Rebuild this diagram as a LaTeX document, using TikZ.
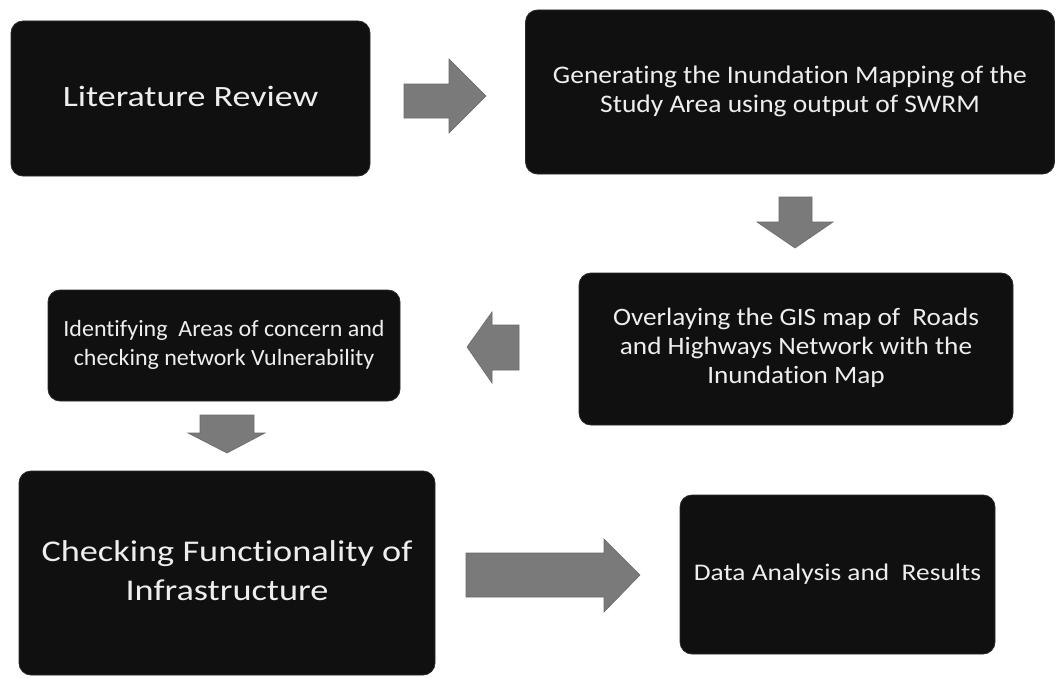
\documentclass[tikz,border=0pt]{standalone}
\usepackage{fontspec}
\usepackage{graphicx}
\setmainfont{Carlito}[Ligatures={NoCommon}]
\definecolor{boxfill}{HTML}{101010}
\definecolor{boxline}{HTML}{2A2A2A}
\definecolor{arrowgray}{HTML}{7A7A7A}
\definecolor{arrowline}{HTML}{6A6A6A}
\definecolor{txt}{HTML}{EEEEEE}
\newcommand{\boxtext}[4]{\scalebox{1}[#1]{\fontsize{#2}{#3}\selectfont\begin{tabular}{@{}c@{}}#4\end{tabular}}}
\tikzset{
  stepbox/.style={draw=boxline, fill=boxfill, rounded corners=12pt, line width=0.8pt,
                  text=txt, inner sep=0pt, anchor=center},
  blockarrow/.style={fill=arrowgray, draw=arrowline, line width=0.6pt, line join=miter}
}
\begin{document}
\begin{tikzpicture}[x=1pt, y=-1pt]
\useasboundingbox (0,0) rectangle (1056,677);
\fill[white] (0,0) rectangle (1056,677);

% boxes
\node[stepbox, minimum width=359pt, minimum height=155pt] (b1) at (190.5,98.5)
  {\boxtext{0.82}{36}{47}{Literature Review}};
\node[stepbox, minimum width=529pt, minimum height=164pt] (b2) at (790,92)
  {\boxtext{0.92}{27.5}{31.5}{Generating the Inundation Mapping of the\\Study Area using output of SWRM}};
\node[stepbox, minimum width=434pt, minimum height=152pt] (b3) at (796,349)
  {\boxtext{0.92}{27.2}{31.5}{Overlaying the GIS map of~ Roads\\and Highways Network with the\\Inundation Map}};
\node[stepbox, minimum width=352pt, minimum height=111pt] (b4) at (224,345.5)
  {\boxtext{0.97}{24}{30}{Identifying~ Areas of concern and\\checking network Vulnerability}};
\node[stepbox, minimum width=416pt, minimum height=204pt] (b5) at (227,573)
  {\boxtext{0.83}{36.3}{47}{Checking Functionality of\\Infrastructure}};
\node[stepbox, minimum width=315pt, minimum height=159pt] (b6) at (837.5,574.5)
  {\boxtext{0.87}{27.4}{33}{Data Analysis and~ Results}};

% block arrows
% b1 -> b2 (right)
\draw[blockarrow] (404,84) -- (449,84) -- (449,59) -- (486,96) -- (449,133) -- (449,118) -- (404,118) -- cycle;
% b2 -> b3 (down)
\draw[blockarrow] (779,197) -- (812,197) -- (812,222) -- (833,222) -- (795,248) -- (757,222) -- (779,222) -- cycle;
% b3 -> b4 (left)
\draw[blockarrow] (519,325) -- (492,325) -- (492,312) -- (467,347) -- (492,383) -- (492,370) -- (519,370) -- cycle;
% b4 -> b5 (down)
\draw[blockarrow] (200,415) -- (254,415) -- (254,433) -- (265,433) -- (227,453) -- (188,433) -- (200,433) -- cycle;
% b5 -> b6 (right)
\draw[blockarrow] (466,553) -- (604,553) -- (604,539) -- (640,575) -- (604,612) -- (604,597) -- (466,597) -- cycle;
\end{tikzpicture}
\end{document}
